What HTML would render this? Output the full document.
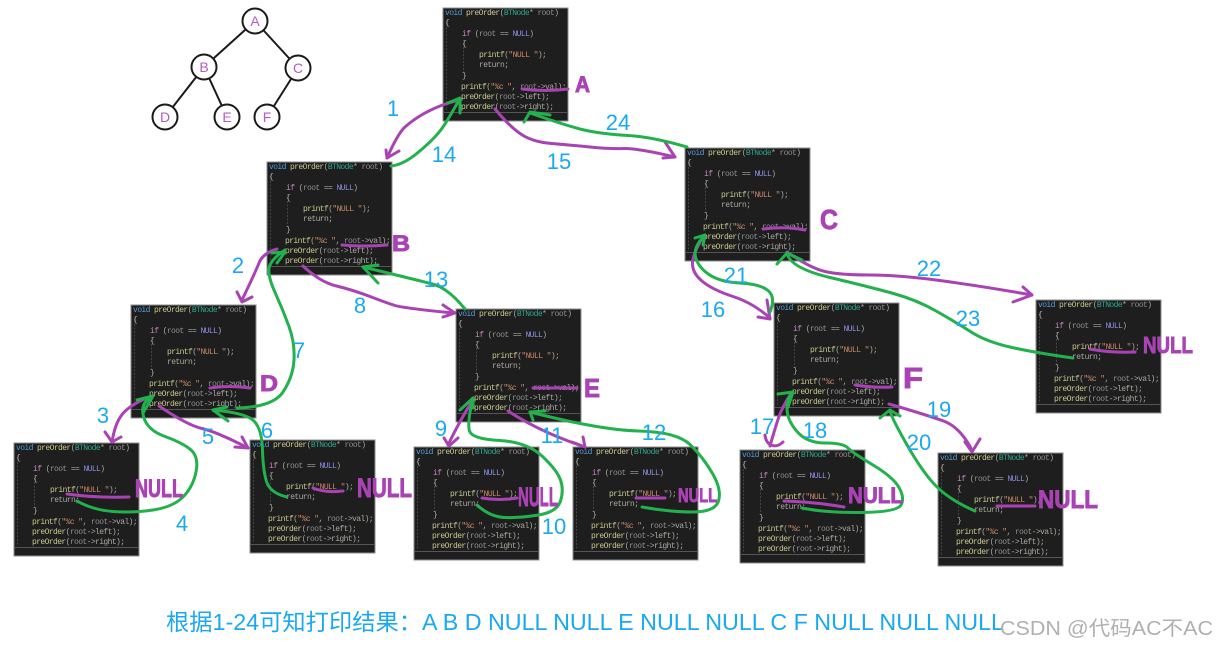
<!DOCTYPE html>
<html><head><meta charset="utf-8"><style>
html,body{margin:0;padding:0;background:#fff}
body{width:1216px;height:647px;overflow:hidden}
svg{display:block;filter:blur(.35px)}
.code text{font:8px "Liberation Mono",monospace;letter-spacing:-.6px;fill:#a8a8a0;white-space:pre}
.b{fill:#1e1e1e;stroke:#8c8c8c;stroke-width:1}
.g{stroke:#555;stroke-width:.7;stroke-dasharray:2 1.5;fill:none}
.k{fill:#569cd6}.c{fill:#c586c0}.f{fill:#c8c88e}.t{fill:#2fa68c}.n{fill:#8f8fe6}.s{fill:#c98a66}.w{fill:#8e8e8e}
.p,.q{fill:none;stroke-width:3;stroke-linecap:round;stroke-linejoin:round}
.p{stroke:#a943b4}.q{stroke:#22b14c;stroke-width:3}
.l{font:22px "Liberation Sans",sans-serif;fill:#1ba9ee;text-anchor:middle}
.h{font:bold 22px "Liberation Sans",sans-serif;fill:#a943b4;stroke:#a943b4;stroke-width:.9}
.tn{font:14px "Liberation Sans",sans-serif;fill:#b45cc4;text-anchor:middle}
</style></head><body>
<svg width="1216" height="647" viewBox="0 0 1216 647" xmlns="http://www.w3.org/2000/svg">
<g stroke="#1a1a1a" stroke-width="2" fill="#fff">
<path d="M255 21L204 67M255 21L298 68M204 67L165 117M204 67L227 117M298 68L267 117" fill="none"/>
<circle cx="255" cy="21" r="12.5"/><circle cx="204" cy="67" r="12.5"/><circle cx="298" cy="68" r="12.5"/><circle cx="165" cy="117" r="12.5"/><circle cx="227" cy="117" r="12.5"/><circle cx="267" cy="117" r="12.5"/>
</g>
<text class="tn" x="255" y="26">A</text><text class="tn" x="204" y="72">B</text><text class="tn" x="298" y="73">C</text><text class="tn" x="165" y="122">D</text><text class="tn" x="227" y="122">E</text><text class="tn" x="267" y="122">F</text>

<g class="code" style="filter:blur(.3px)">
<g transform="translate(443,8)"><rect class="b" width="125" height="113"/><path class="g" d="M3.500 12V102M20.500 32V65"/><path d="M0 104.500H125" stroke="#555"/><text x="2" y="7"><tspan class="k">void</tspan> <tspan class="f">preOrder</tspan>(<tspan class="t">BTNode</tspan>* <tspan class="w">root</tspan>)</text><text x="2" y="17">{</text><text x="19" y="28"><tspan class="c">if</tspan> (<tspan class="w">root</tspan> == <tspan class="n">NULL</tspan>)</text><text x="19" y="38">{</text><text x="36" y="49"><tspan class="f">printf</tspan>(<tspan class="s">"NULL "</tspan>);</text><text x="36" y="59" class="c">return;</text><text x="19" y="70">}</text><text x="18" y="81"><tspan class="f">printf</tspan>(<tspan class="s">"%c "</tspan>, <tspan class="w">root</tspan>-&gt;val);</text><text x="18" y="91"><tspan class="f">preOrder</tspan>(<tspan class="w">root</tspan>-&gt;left);</text><text x="18" y="101"><tspan class="f">preOrder</tspan>(<tspan class="w">root</tspan>-&gt;right);</text></g>
<g transform="translate(267,162)"><rect class="b" width="125" height="113"/><path class="g" d="M3.500 12V102M20.500 32V65"/><path d="M0 104.500H125" stroke="#555"/><text x="2" y="7"><tspan class="k">void</tspan> <tspan class="f">preOrder</tspan>(<tspan class="t">BTNode</tspan>* <tspan class="w">root</tspan>)</text><text x="2" y="17">{</text><text x="19" y="28"><tspan class="c">if</tspan> (<tspan class="w">root</tspan> == <tspan class="n">NULL</tspan>)</text><text x="19" y="38">{</text><text x="36" y="49"><tspan class="f">printf</tspan>(<tspan class="s">"NULL "</tspan>);</text><text x="36" y="59" class="c">return;</text><text x="19" y="70">}</text><text x="18" y="81"><tspan class="f">printf</tspan>(<tspan class="s">"%c "</tspan>, <tspan class="w">root</tspan>-&gt;val);</text><text x="18" y="91"><tspan class="f">preOrder</tspan>(<tspan class="w">root</tspan>-&gt;left);</text><text x="18" y="101"><tspan class="f">preOrder</tspan>(<tspan class="w">root</tspan>-&gt;right);</text></g>
<g transform="translate(685,148)"><rect class="b" width="125" height="113"/><path class="g" d="M3.500 12V102M20.500 32V65"/><path d="M0 104.500H125" stroke="#555"/><text x="2" y="7"><tspan class="k">void</tspan> <tspan class="f">preOrder</tspan>(<tspan class="t">BTNode</tspan>* <tspan class="w">root</tspan>)</text><text x="2" y="17">{</text><text x="19" y="28"><tspan class="c">if</tspan> (<tspan class="w">root</tspan> == <tspan class="n">NULL</tspan>)</text><text x="19" y="38">{</text><text x="36" y="49"><tspan class="f">printf</tspan>(<tspan class="s">"NULL "</tspan>);</text><text x="36" y="59" class="c">return;</text><text x="19" y="70">}</text><text x="18" y="81"><tspan class="f">printf</tspan>(<tspan class="s">"%c "</tspan>, <tspan class="w">root</tspan>-&gt;val);</text><text x="18" y="91"><tspan class="f">preOrder</tspan>(<tspan class="w">root</tspan>-&gt;left);</text><text x="18" y="101"><tspan class="f">preOrder</tspan>(<tspan class="w">root</tspan>-&gt;right);</text></g>
<g transform="translate(131,305)"><rect class="b" width="125" height="113"/><path class="g" d="M3.500 12V102M20.500 32V65"/><path d="M0 104.500H125" stroke="#555"/><text x="2" y="7"><tspan class="k">void</tspan> <tspan class="f">preOrder</tspan>(<tspan class="t">BTNode</tspan>* <tspan class="w">root</tspan>)</text><text x="2" y="17">{</text><text x="19" y="28"><tspan class="c">if</tspan> (<tspan class="w">root</tspan> == <tspan class="n">NULL</tspan>)</text><text x="19" y="38">{</text><text x="36" y="49"><tspan class="f">printf</tspan>(<tspan class="s">"NULL "</tspan>);</text><text x="36" y="59" class="c">return;</text><text x="19" y="70">}</text><text x="18" y="81"><tspan class="f">printf</tspan>(<tspan class="s">"%c "</tspan>, <tspan class="w">root</tspan>-&gt;val);</text><text x="18" y="91"><tspan class="f">preOrder</tspan>(<tspan class="w">root</tspan>-&gt;left);</text><text x="18" y="101"><tspan class="f">preOrder</tspan>(<tspan class="w">root</tspan>-&gt;right);</text></g>
<g transform="translate(456,309)"><rect class="b" width="125" height="113"/><path class="g" d="M3.500 12V102M20.500 32V65"/><path d="M0 104.500H125" stroke="#555"/><text x="2" y="7"><tspan class="k">void</tspan> <tspan class="f">preOrder</tspan>(<tspan class="t">BTNode</tspan>* <tspan class="w">root</tspan>)</text><text x="2" y="17">{</text><text x="19" y="28"><tspan class="c">if</tspan> (<tspan class="w">root</tspan> == <tspan class="n">NULL</tspan>)</text><text x="19" y="38">{</text><text x="36" y="49"><tspan class="f">printf</tspan>(<tspan class="s">"NULL "</tspan>);</text><text x="36" y="59" class="c">return;</text><text x="19" y="70">}</text><text x="18" y="81"><tspan class="f">printf</tspan>(<tspan class="s">"%c "</tspan>, <tspan class="w">root</tspan>-&gt;val);</text><text x="18" y="91"><tspan class="f">preOrder</tspan>(<tspan class="w">root</tspan>-&gt;left);</text><text x="18" y="101"><tspan class="f">preOrder</tspan>(<tspan class="w">root</tspan>-&gt;right);</text></g>
<g transform="translate(774,303)"><rect class="b" width="125" height="113"/><path class="g" d="M3.500 12V102M20.500 32V65"/><path d="M0 104.500H125" stroke="#555"/><text x="2" y="7"><tspan class="k">void</tspan> <tspan class="f">preOrder</tspan>(<tspan class="t">BTNode</tspan>* <tspan class="w">root</tspan>)</text><text x="2" y="17">{</text><text x="19" y="28"><tspan class="c">if</tspan> (<tspan class="w">root</tspan> == <tspan class="n">NULL</tspan>)</text><text x="19" y="38">{</text><text x="36" y="49"><tspan class="f">printf</tspan>(<tspan class="s">"NULL "</tspan>);</text><text x="36" y="59" class="c">return;</text><text x="19" y="70">}</text><text x="18" y="81"><tspan class="f">printf</tspan>(<tspan class="s">"%c "</tspan>, <tspan class="w">root</tspan>-&gt;val);</text><text x="18" y="91"><tspan class="f">preOrder</tspan>(<tspan class="w">root</tspan>-&gt;left);</text><text x="18" y="101"><tspan class="f">preOrder</tspan>(<tspan class="w">root</tspan>-&gt;right);</text></g>
<g transform="translate(1036,300)"><rect class="b" width="125" height="113"/><path class="g" d="M3.500 12V102M20.500 32V65"/><path d="M0 104.500H125" stroke="#555"/><text x="2" y="7"><tspan class="k">void</tspan> <tspan class="f">preOrder</tspan>(<tspan class="t">BTNode</tspan>* <tspan class="w">root</tspan>)</text><text x="2" y="17">{</text><text x="19" y="28"><tspan class="c">if</tspan> (<tspan class="w">root</tspan> == <tspan class="n">NULL</tspan>)</text><text x="19" y="38">{</text><text x="36" y="49"><tspan class="f">printf</tspan>(<tspan class="s">"NULL "</tspan>);</text><text x="36" y="59" class="c">return;</text><text x="19" y="70">}</text><text x="18" y="81"><tspan class="f">printf</tspan>(<tspan class="s">"%c "</tspan>, <tspan class="w">root</tspan>-&gt;val);</text><text x="18" y="91"><tspan class="f">preOrder</tspan>(<tspan class="w">root</tspan>-&gt;left);</text><text x="18" y="101"><tspan class="f">preOrder</tspan>(<tspan class="w">root</tspan>-&gt;right);</text></g>
<g transform="translate(14,443)"><rect class="b" width="125" height="113"/><path class="g" d="M3.500 12V102M20.500 32V65"/><path d="M0 104.500H125" stroke="#555"/><text x="2" y="7"><tspan class="k">void</tspan> <tspan class="f">preOrder</tspan>(<tspan class="t">BTNode</tspan>* <tspan class="w">root</tspan>)</text><text x="2" y="17">{</text><text x="19" y="28"><tspan class="c">if</tspan> (<tspan class="w">root</tspan> == <tspan class="n">NULL</tspan>)</text><text x="19" y="38">{</text><text x="36" y="49"><tspan class="f">printf</tspan>(<tspan class="s">"NULL "</tspan>);</text><text x="36" y="59" class="c">return;</text><text x="19" y="70">}</text><text x="18" y="81"><tspan class="f">printf</tspan>(<tspan class="s">"%c "</tspan>, <tspan class="w">root</tspan>-&gt;val);</text><text x="18" y="91"><tspan class="f">preOrder</tspan>(<tspan class="w">root</tspan>-&gt;left);</text><text x="18" y="101"><tspan class="f">preOrder</tspan>(<tspan class="w">root</tspan>-&gt;right);</text></g>
<g transform="translate(250,440)"><rect class="b" width="125" height="113"/><path class="g" d="M3.500 12V102M20.500 32V65"/><path d="M0 104.500H125" stroke="#555"/><text x="2" y="7"><tspan class="k">void</tspan> <tspan class="f">preOrder</tspan>(<tspan class="t">BTNode</tspan>* <tspan class="w">root</tspan>)</text><text x="2" y="17">{</text><text x="19" y="28"><tspan class="c">if</tspan> (<tspan class="w">root</tspan> == <tspan class="n">NULL</tspan>)</text><text x="19" y="38">{</text><text x="36" y="49"><tspan class="f">printf</tspan>(<tspan class="s">"NULL "</tspan>);</text><text x="36" y="59" class="c">return;</text><text x="19" y="70">}</text><text x="18" y="81"><tspan class="f">printf</tspan>(<tspan class="s">"%c "</tspan>, <tspan class="w">root</tspan>-&gt;val);</text><text x="18" y="91"><tspan class="f">preOrder</tspan>(<tspan class="w">root</tspan>-&gt;left);</text><text x="18" y="101"><tspan class="f">preOrder</tspan>(<tspan class="w">root</tspan>-&gt;right);</text></g>
<g transform="translate(414,447)"><rect class="b" width="125" height="113"/><path class="g" d="M3.500 12V102M20.500 32V65"/><path d="M0 104.500H125" stroke="#555"/><text x="2" y="7"><tspan class="k">void</tspan> <tspan class="f">preOrder</tspan>(<tspan class="t">BTNode</tspan>* <tspan class="w">root</tspan>)</text><text x="2" y="17">{</text><text x="19" y="28"><tspan class="c">if</tspan> (<tspan class="w">root</tspan> == <tspan class="n">NULL</tspan>)</text><text x="19" y="38">{</text><text x="36" y="49"><tspan class="f">printf</tspan>(<tspan class="s">"NULL "</tspan>);</text><text x="36" y="59" class="c">return;</text><text x="19" y="70">}</text><text x="18" y="81"><tspan class="f">printf</tspan>(<tspan class="s">"%c "</tspan>, <tspan class="w">root</tspan>-&gt;val);</text><text x="18" y="91"><tspan class="f">preOrder</tspan>(<tspan class="w">root</tspan>-&gt;left);</text><text x="18" y="101"><tspan class="f">preOrder</tspan>(<tspan class="w">root</tspan>-&gt;right);</text></g>
<g transform="translate(573,447)"><rect class="b" width="125" height="113"/><path class="g" d="M3.500 12V102M20.500 32V65"/><path d="M0 104.500H125" stroke="#555"/><text x="2" y="7"><tspan class="k">void</tspan> <tspan class="f">preOrder</tspan>(<tspan class="t">BTNode</tspan>* <tspan class="w">root</tspan>)</text><text x="2" y="17">{</text><text x="19" y="28"><tspan class="c">if</tspan> (<tspan class="w">root</tspan> == <tspan class="n">NULL</tspan>)</text><text x="19" y="38">{</text><text x="36" y="49"><tspan class="f">printf</tspan>(<tspan class="s">"NULL "</tspan>);</text><text x="36" y="59" class="c">return;</text><text x="19" y="70">}</text><text x="18" y="81"><tspan class="f">printf</tspan>(<tspan class="s">"%c "</tspan>, <tspan class="w">root</tspan>-&gt;val);</text><text x="18" y="91"><tspan class="f">preOrder</tspan>(<tspan class="w">root</tspan>-&gt;left);</text><text x="18" y="101"><tspan class="f">preOrder</tspan>(<tspan class="w">root</tspan>-&gt;right);</text></g>
<g transform="translate(740,450)"><rect class="b" width="125" height="113"/><path class="g" d="M3.500 12V102M20.500 32V65"/><path d="M0 104.500H125" stroke="#555"/><text x="2" y="7"><tspan class="k">void</tspan> <tspan class="f">preOrder</tspan>(<tspan class="t">BTNode</tspan>* <tspan class="w">root</tspan>)</text><text x="2" y="17">{</text><text x="19" y="28"><tspan class="c">if</tspan> (<tspan class="w">root</tspan> == <tspan class="n">NULL</tspan>)</text><text x="19" y="38">{</text><text x="36" y="49"><tspan class="f">printf</tspan>(<tspan class="s">"NULL "</tspan>);</text><text x="36" y="59" class="c">return;</text><text x="19" y="70">}</text><text x="18" y="81"><tspan class="f">printf</tspan>(<tspan class="s">"%c "</tspan>, <tspan class="w">root</tspan>-&gt;val);</text><text x="18" y="91"><tspan class="f">preOrder</tspan>(<tspan class="w">root</tspan>-&gt;left);</text><text x="18" y="101"><tspan class="f">preOrder</tspan>(<tspan class="w">root</tspan>-&gt;right);</text></g>
<g transform="translate(938,453)"><rect class="b" width="125" height="113"/><path class="g" d="M3.500 12V102M20.500 32V65"/><path d="M0 104.500H125" stroke="#555"/><text x="2" y="7"><tspan class="k">void</tspan> <tspan class="f">preOrder</tspan>(<tspan class="t">BTNode</tspan>* <tspan class="w">root</tspan>)</text><text x="2" y="17">{</text><text x="19" y="28"><tspan class="c">if</tspan> (<tspan class="w">root</tspan> == <tspan class="n">NULL</tspan>)</text><text x="19" y="38">{</text><text x="36" y="49"><tspan class="f">printf</tspan>(<tspan class="s">"NULL "</tspan>);</text><text x="36" y="59" class="c">return;</text><text x="19" y="70">}</text><text x="18" y="81"><tspan class="f">printf</tspan>(<tspan class="s">"%c "</tspan>, <tspan class="w">root</tspan>-&gt;val);</text><text x="18" y="91"><tspan class="f">preOrder</tspan>(<tspan class="w">root</tspan>-&gt;left);</text><text x="18" y="101"><tspan class="f">preOrder</tspan>(<tspan class="w">root</tspan>-&gt;right);</text></g>
</g>

<!-- purple strokes -->
<g>
<polyline class="p sm" points="460,100 450,102 430,110 413,120 398,133 387,158"/><path class="p" d="M386 150L387 158L399 151"/>
<polyline class="p sm" points="495,109 510,127 533,142 570,145 610,149 637,148 675,157"/><path class="p" d="M665 142L675 157L663 158"/>
<polyline class="p sm" points="277,249 263,253 255,273 242,300"/><path class="p" d="M237 292L242 302L252 297"/>
<polyline class="p sm" points="303,266 320,282 353,290 387,303 403,308 453,313"/><path class="p" d="M443 305L455 313L443 317"/>
<polyline class="p sm" points="147,398 130,405 115,423 112,442"/><path class="p" d="M105 432L112 442L121 437"/>
<polyline class="p sm" points="159,406 187,425 217,432 248,448"/><path class="p" d="M242 437L248 448L235 447"/>
<polyline class="p sm" points="473,400 460,420 448,445"/><path class="p" d="M444 438L449 446L458 438"/>
<polyline class="p sm" points="508,411 540,432 585,447"/><path class="p" d="M572 442L585 447L583 437"/>
<polyline class="p sm" points="703,237 693,253 692,273 713,290 753,303 770,318"/><path class="p" d="M767 300L770 319L758 317"/>
<polyline class="p sm" points="787,252 810,268 840,275 900,275 987,287 1032,295"/><path class="p" d="M1023 287L1032 295L1013 302"/>
<polyline class="p sm" points="790,395 782,408 776,425 770,446"/><path class="p" d="M765 435C766 446 776 449 783 442"/>
<polyline class="p sm" points="889,404 927,415 960,427 972,450"/><path class="p" d="M965 442L972 452L980 439"/>
<!-- underlines -->
<path class="p" d="M522 89Q545 92 568 89"/><path class="p" d="M342 245Q365 247 387 245"/><path class="p" d="M763 229Q785 226 805 230"/>
<path class="p" d="M210 388Q230 385 250 388"/><path class="p" d="M533 388H577"/><path class="p" d="M855 385Q875 388 892 387"/>
<path class="p" d="M67 494Q95 498 129 497"/><path class="p" d="M313 488Q325 493 343 491"/><path class="p" d="M482 498Q500 501 517 498"/>
<path class="p" d="M636 498H665"/><path class="p" d="M784 501Q815 502 844 507"/><path class="p" d="M997 506H1035"/><path class="p" d="M1090 349Q1110 353 1135 352"/>
</g>

<!-- green strokes -->
<g>
<polyline class="q sm" points="391,166 403,165 433,140 447,122 459,100"/><path class="q" d="M448 103L460 98L460 113"/>
<polyline class="q sm" points="687,147 653,137 603,134 570,127 530,113"/><path class="q" d="M524 122L530 112L550 115"/>
<polyline class="q sm" points="237,408 273,407 293,377 295,343 283,310 268,277 270,260 285,250"/><path class="q" d="M272 253L285 252L277 263"/>
<polyline class="q sm" points="465,309 448,288 417,280 363,267"/><path class="q" d="M378 265L363 267L378 283"/>
<polyline class="q sm" points="77,501 93,510 133,513 173,507 193,487 199,457 183,443 147,430 140,403 152,397"/><path class="q" d="M137 400L153 396L143 413"/>
<polyline class="q sm" points="287,497 270,493 263,470 262,430 247,413 213,410"/><path class="q" d="M227 407L213 410L228 421"/>
<polyline class="q sm" points="477,505 490,517 520,518 557,512 564,490 557,470 527,442 472,439 467,423 473,398"/><path class="q" d="M460 410L473 398L473 408"/>
<polyline class="q sm" points="642,507 670,512 715,512 722,490 703,457 677,432 600,430 530,412"/><path class="q" d="M545 411L530 412L533 420"/>
<polyline class="q sm" points="770,312 776,297 760,284 720,282 698,267 693,247 705,235"/><path class="q" d="M695 238L705 235L703 245"/>
<polyline class="q sm" points="1073,358 1037,353 987,342 957,323 917,300 870,287 790,268 787,253"/><path class="q" d="M777 264L787 253L802 260"/>
<polyline class="q sm" points="802,508 827,513 897,512 905,498 893,477 853,453 843,443 807,443 787,420 787,397 793,393"/><path class="q" d="M778 394L793 392L788 407"/>
<polyline class="q sm" points="975,511 950,500 923,473 890,415 890,410"/><path class="q" d="M880 418L890 410L900 416"/>
</g>

<!-- handwritten labels -->
<text class="h" x="575" y="92" textLength="15" lengthAdjust="spacingAndGlyphs">A</text>
<text class="h" x="392" y="251" textLength="18" lengthAdjust="spacingAndGlyphs">B</text>
<text class="h" x="820" y="229" textLength="18" lengthAdjust="spacingAndGlyphs" style="font-size:28px">C</text>
<text class="h" x="260" y="391" textLength="18" lengthAdjust="spacingAndGlyphs">D</text>
<text class="h" x="584" y="397" textLength="16" lengthAdjust="spacingAndGlyphs" style="font-size:26px">E</text>
<text class="h" x="903" y="388" textLength="20" lengthAdjust="spacingAndGlyphs" style="font-size:29px">F</text>
<text class="h" x="135" y="497" textLength="48" lengthAdjust="spacingAndGlyphs" style="font-size:25px">NULL</text>
<text class="h" x="357" y="497" textLength="55" lengthAdjust="spacingAndGlyphs" style="font-size:27px">NULL</text>
<text class="h" x="518" y="506" textLength="40" lengthAdjust="spacingAndGlyphs" style="font-size:27px">NULL</text>
<text class="h" x="678" y="502" textLength="39" lengthAdjust="spacingAndGlyphs" style="font-size:19px">NULL</text>
<text class="h" x="848" y="503" textLength="55" lengthAdjust="spacingAndGlyphs" style="font-size:22px">NULL</text>
<text class="h" x="1038" y="508" textLength="60" lengthAdjust="spacingAndGlyphs" style="font-size:25px">NULL</text>
<text class="h" x="1143" y="353" textLength="50" lengthAdjust="spacingAndGlyphs" style="font-size:23px">NULL</text>

<!-- numbers -->
<g>
<text class="l" x="393" y="116">1</text><text class="l" x="444" y="162">14</text><text class="l" x="618" y="130">24</text><text class="l" x="559" y="169">15</text>
<text class="l" x="238" y="273">2</text><text class="l" x="299" y="358">7</text><text class="l" x="360" y="313">8</text><text class="l" x="436" y="287">13</text>
<text class="l" x="103" y="423">3</text><text class="l" x="182" y="531">4</text><text class="l" x="208" y="444">5</text><text class="l" x="267" y="438">6</text>
<text class="l" x="441" y="436">9</text><text class="l" x="554" y="534">10</text><text class="l" x="552" y="443">11</text><text class="l" x="654" y="440">12</text>
<text class="l" x="736" y="283">21</text><text class="l" x="713" y="317">16</text><text class="l" x="929" y="276">22</text><text class="l" x="968" y="326">23</text>
<text class="l" x="762" y="434">17</text><text class="l" x="815" y="438">18</text><text class="l" x="939" y="417">19</text><text class="l" x="919" y="450">20</text>
</g>

<text x="166" y="630" textLength="838" lengthAdjust="spacingAndGlyphs" style="font:23px 'Liberation Sans','Noto Sans CJK SC',sans-serif;fill:#1ba9ee">根据1-24可知打印结果：A B D NULL NULL E NULL NULL C F NULL NULL NULL</text>
<text x="1000" y="635" textLength="213" lengthAdjust="spacingAndGlyphs" style="font:20px 'Liberation Sans','Noto Sans CJK SC',sans-serif;fill:#b0b0b0">CSDN @代码AC不AC</text>
</svg>
<script>
document.querySelectorAll('polyline.sm').forEach(function(e){
  var v=e.getAttribute('points').trim().split(/\s+/).map(function(s){return s.split(',').map(Number)});
  var d='M'+v[0][0]+' '+v[0][1];
  for(var i=1;i<v.length-1;i++){
    var mx=(v[i][0]+v[i+1][0])/2,my=(v[i][1]+v[i+1][1])/2;
    d+='Q'+v[i][0]+' '+v[i][1]+' '+(i==v.length-2?v[i+1][0]:mx)+' '+(i==v.length-2?v[i+1][1]:my);
  }
  var p=document.createElementNS('http://www.w3.org/2000/svg','path');
  p.setAttribute('d',d);p.setAttribute('class',e.getAttribute('class'));
  e.parentNode.replaceChild(p,e);
});
</script>
</body></html>
